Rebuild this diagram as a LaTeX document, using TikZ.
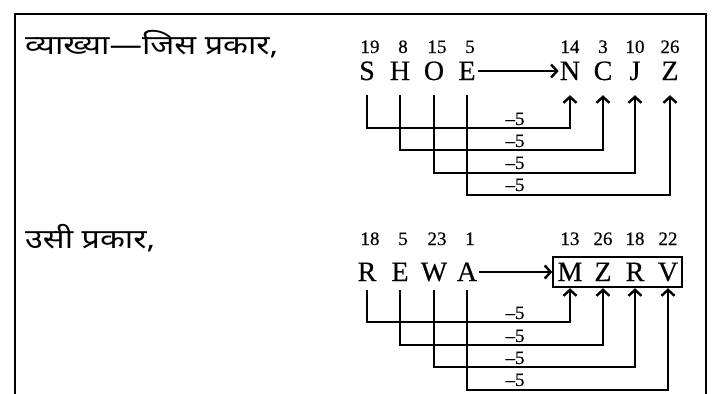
\documentclass[tikz,border=0pt]{standalone}
\usepackage{fontspec}
\setmainfont{Liberation Serif}[FakeBold=0.4]
\newfontfamily\hindi[Script=Devanagari, FakeStretch=1.2]{Noto Sans}
\usetikzlibrary{arrows.meta}
\usetikzlibrary{fit}

\tikzset{
  ltr/.style={inner sep=0pt, font=\fontsize{28}{28}\selectfont, text height=18pt, text depth=0pt, anchor=base},
  num/.style={inner sep=0pt, font=\fontsize{19}{19}\selectfont, text height=13pt, text depth=0pt, anchor=base},
  minus/.style={inner sep=0pt, font=\fontsize{19}{19}\selectfont, anchor=base},
  conn/.style={line width=2pt, -{Straight Barb[length=6pt,width=13pt,line width=2.4pt]}},
  heading/.style={inner sep=0pt, anchor=base west, font=\hindi\fontsize{27}{28}\selectfont},
}

\begin{document}
\begin{tikzpicture}[x=1pt, y=-1pt]

    \useasboundingbox (0,0) rectangle (716,394);

    % Frame (open at the bottom)
    \draw[line width=2pt] (15,400) -- (15,14) -- (706,14) -- (706,400);

    % FIRST EXAMPLE

    \node[heading] (head1) at (25,54) {\bfseries व्याख्या\mdseries—जिस प्रकार,};

    % Letters and their numbers
    \foreach \l/\n/\x [count=\i] in {S/19/367, H/8/400, O/15/434, E/5/467} {
        \node[ltr] (src\i) at (\x,80) {\l};
        \node[num] at (\x+3,53) {\n};
    }
    \foreach \l/\n/\x [count=\i] in {N/14/570, C/3/603, J/10/635, Z/26/670} {
        \node[ltr] (dst\i) at (\x,80) {\l};
        \node[num] at (\x,53) {\n};
    }

    % Arrow E -> N
    \draw[conn, shorten <=2pt, shorten >=1pt] (src4.east) -- (dst1.west);

    % Connectors
    \foreach \i/\d in {1/48, 2/70, 3/93, 4/115} {
        \draw[conn, shorten <=15pt, shorten >=15pt] (src\i.south) -- ++(0,\d) -| (dst\i.south);
    }

    % -5 labels
    \foreach \y in {125, 147, 169, 191} {
        \node[minus] at (515,\y) {--5};
    }

    % SECOND EXAMPLE

    \node[heading] (head2) at (25,248) {उसी प्रकार,};

    \foreach \l/\n/\x [count=\i] in {R/18/367, E/5/400, W/23/434, A/1/467} {
        \node[ltr] (srcb\i) at (\x,281) {\l};
        \node[num] at (\x+3,245) {\n};
    }
    \foreach \l/\n/\x [count=\i] in {M/13/570, Z/26/603, R/18/635, V/22/668} {
        \node[ltr] (dstb\i) at (\x,281) {\l};
        \node[num] at (\x,245) {\n};
    }

    % Box round the answer
    \node[draw, line width=2pt, inner xsep=4pt, inner ysep=6pt, fit=(dstb1) (dstb4)] (box) {};

    % Arrow A -> box
    \draw[conn, shorten <=2pt] (srcb4.east) -- (srcb4.east -| box.west);

    % Connectors
    \foreach \i/\d in {1/41, 2/64, 3/86, 4/109} {
        \draw[conn, shorten <=9pt] (srcb\i.south) -- ++(0,\d) -| (dstb\i |- box.south);
    }

    % -5 labels
    \foreach \y in {319, 342, 364, 386} {
        \node[minus] at (515,\y) {--5};
    }

\end{tikzpicture}
\end{document}
